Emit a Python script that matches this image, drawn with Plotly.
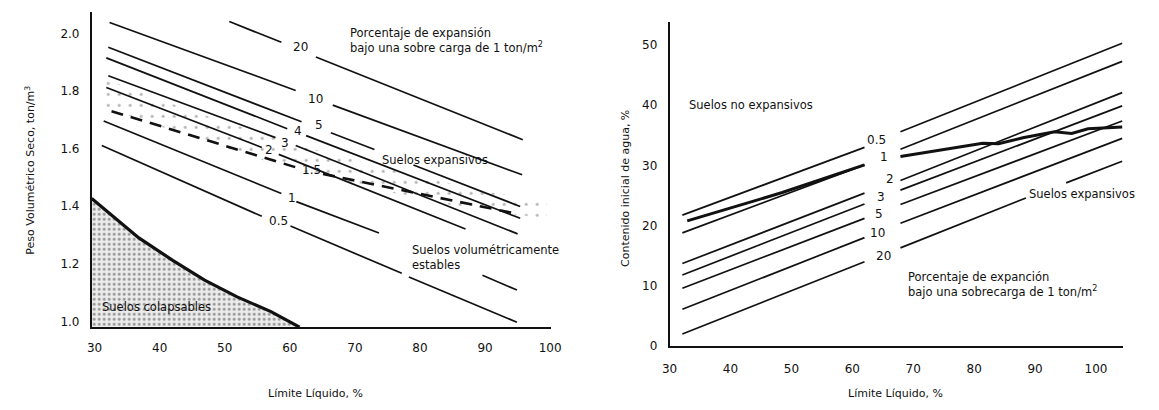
import plotly.graph_objects as go

# ---------------- LEFT CHART DATA (Límite Líquido %, Peso volumétrico seco ton/m3) ----------------
l_xticks = [30, 40, 50, 60, 70, 80, 90, 100]
l_xticklabels = ["30", "40", "50", "60", "70", "80", "90", "100"]
l_yticks = [1.0, 1.2, 1.4, 1.6, 1.8, 2.0]
l_yticklabels = ["1.0", "1.2", "1.4", "1.6", "1.8", "2.0"]

# expansion lines (None separates segments interrupted by labels / text)
l20_x = [50.7, 58.7, None, 64.0, 95.8]
l20_y = [2.041, 1.969, None, 1.918, 1.631]
l10_x = [32.3, 60.9, None, 66.6, 95.7]
l10_y = [2.038, 1.802, None, 1.751, 1.509]
l5_x = [32.1, 61.8, None, 66.3, 73.0, None, 79.0, 95.4]
l5_y = [1.952, 1.693, None, 1.655, 1.597, None, 1.543, 1.399]
l4_x = [31.8, 59.6, None, 62.5, 95.4]
l4_y = [1.915, 1.669, None, 1.645, 1.358]
l3_x = [32.1, 57.8, None, 60.9, 95.0]
l3_y = [1.853, 1.638, None, 1.611, 1.304]
l2_x = [31.8, 55.7, None, 58.3, 87.0]
l2_y = [1.812, 1.604, None, 1.580, 1.321]
l15_x = [32.6, 61.8, None, 65.1, 94.6]
l15_y = [1.730, 1.529, None, 1.512, 1.375]
l1_x = [31.4, 58.7, None, 61.0, 73.7, None, 89.6, 94.9]
l1_y = [1.696, 1.444, None, 1.416, 1.307, None, 1.160, 1.109]
l05_x = [31.1, 55.7, None, 60.1, 77.2, None, 78.3, 94.9]
l05_y = [1.611, 1.365, None, 1.331, 1.167, None, 1.154, 0.997]

# collapsible soils boundary
col_x = [29.55, 33.3, 36.8, 42.0, 46.9, 51.9, 57.1, 61.5]
col_y = [1.427, 1.355, 1.290, 1.212, 1.143, 1.085, 1.034, 0.98]

# stippled band (expansive soils zone)
band_x = [31.8, 45.0, 60.0, 75.0, 90.0, 99.5, 99.5, 90.0, 75.0, 60.0, 45.0, 31.8]
band_y = [1.84, 1.73, 1.62, 1.53, 1.45, 1.42, 1.36, 1.38, 1.45, 1.53, 1.64, 1.74]

l_labels = [("20", 61.6, 1.952), ("10", 63.9, 1.771), ("5", 64.5, 1.683),
            ("4", 61.3, 1.660), ("3", 59.3, 1.621), ("2", 56.8, 1.594),
            ("1.5", 63.3, 1.526), ("1", 60.3, 1.430), ("0.5", 58.3, 1.348)]

# ---------------- RIGHT CHART DATA (Límite Líquido %, contenido inicial de agua %) ----------------
r_xticks = [30, 40, 50, 60, 70, 80, 90, 100]
r_yticks = [0, 10, 20, 30, 40, 50]

r05_x = [32.1, 62.0, None, 67.9, 104.3]
r05_y = [21.75, 33.0, None, 35.6, 50.3]
r1_x = [32.1, 62.0, None, 67.9, 104.3]
r1_y = [18.8, 30.1, None, 32.7, 47.3]
r2_x = [32.1, 62.0, None, 67.9, 104.3]
r2_y = [13.7, 25.4, None, 27.5, 42.1]
r3_x = [32.1, 62.0, None, 67.9, 104.3]
r3_y = [11.8, 23.6, None, 25.9, 39.9]
r5_x = [32.1, 62.0, None, 67.9, 104.3]
r5_y = [9.6, 21.2, None, 23.5, 37.4]
r10_x = [32.1, 62.0, None, 67.9, 104.3]
r10_y = [6.1, 18.0, None, 20.4, 34.5]
r20_x = [32.1, 62.0, None, 67.9, 88.5, None, 95.1, 104.3]
r20_y = [2.0, 14.0, None, 16.3, 24.6, None, 27.1, 30.7]
# heavy (observed) line
rh_x = [32.9, 48.5, 62.0, None, 67.9, 75.0, 81.4, 84.0, 88.0, 93.2, 96.0, 98.7, 104.3]
rh_y = [20.8, 25.5, 30.1, None, 31.5, 32.6, 33.7, 33.6, 34.6, 35.6, 35.3, 36.1, 36.4]

r_labels = [("0.5", 63.9, 34.2), ("1", 65.2, 31.4), ("2", 66.2, 27.8), ("3", 64.7, 24.8),
            ("5", 64.4, 21.9), ("10", 64.2, 18.8), ("20", 65.2, 14.9)]

FONT = "DejaVu Sans"
INK = "#111111"

fig = go.Figure()

# collapsible region
fig.add_trace(go.Scatter(
    x=col_x + [col_x[0]], y=col_y + [col_y[-1]], mode="lines", fill="toself",
    fillcolor="rgba(150,150,150,0.35)",
    fillpattern=dict(shape=".", fgcolor="#333333", bgcolor="rgba(200,200,200,0.35)", size=5, solidity=0.25),
    line=dict(width=0), hoverinfo="skip", xaxis="x", yaxis="y"))
fig.add_trace(go.Scatter(x=col_x, y=col_y, mode="lines", line=dict(color=INK, width=3.2),
                         hoverinfo="skip", xaxis="x", yaxis="y"))

# stippled band
fig.add_trace(go.Scatter(
    x=band_x, y=band_y, mode="lines", fill="toself", fillcolor="rgba(0,0,0,0)",
    fillpattern=dict(shape=".", fgcolor="#666666", bgcolor="rgba(0,0,0,0)", size=11, solidity=0.06),
    line=dict(width=0), hoverinfo="skip", xaxis="x", yaxis="y"))

for xs, ys in [(l20_x, l20_y), (l10_x, l10_y), (l5_x, l5_y), (l4_x, l4_y), (l3_x, l3_y),
               (l2_x, l2_y), (l1_x, l1_y), (l05_x, l05_y)]:
    fig.add_trace(go.Scatter(x=xs, y=ys, mode="lines", line=dict(color=INK, width=1.7),
                             connectgaps=False, hoverinfo="skip", xaxis="x", yaxis="y"))
fig.add_trace(go.Scatter(x=l15_x, y=l15_y, mode="lines",
                         line=dict(color=INK, width=2.6, dash="12px,8px"),
                         connectgaps=False, hoverinfo="skip", xaxis="x", yaxis="y"))

for xs, ys in [(r05_x, r05_y), (r1_x, r1_y), (r2_x, r2_y), (r3_x, r3_y), (r5_x, r5_y),
               (r10_x, r10_y), (r20_x, r20_y)]:
    fig.add_trace(go.Scatter(x=xs, y=ys, mode="lines", line=dict(color=INK, width=1.7),
                             connectgaps=False, hoverinfo="skip", xaxis="x2", yaxis="y2"))
fig.add_trace(go.Scatter(x=rh_x, y=rh_y, mode="lines", line=dict(color=INK, width=3.0),
                         connectgaps=False, hoverinfo="skip", xaxis="x2", yaxis="y2"))

ann = []
for t, x, y in l_labels:
    ann.append(dict(text=t, x=x, y=y, xref="x", yref="y", showarrow=False,
                    font=dict(size=12, color=INK)))
for t, x, y in r_labels:
    ann.append(dict(text=t, x=x, y=y, xref="x2", yref="y2", showarrow=False,
                    font=dict(size=12, color=INK)))

def txt(text, x, y, xref, yref, size=11.5, xanchor="left", yanchor="middle", angle=0, align="left"):
    ann.append(dict(text=text, x=x, y=y, xref=xref, yref=yref, showarrow=False,
                    xanchor=xanchor, yanchor=yanchor, textangle=angle, align=align,
                    font=dict(size=size, color=INK)))

txt("Porcentaje de expansión<br>bajo una sobre carga de 1 ton/m<sup>2</sup>", 68.9, 1.974, "x", "y")
txt("Suelos expansivos", 73.9, 1.560, "x", "y")
txt("Suelos volumétricamente<br>estables", 78.4, 1.222, "x", "y")
txt("Suelos colapsables", 30.8, 1.051, "x", "y")

txt("Suelos no expansivos", 32.9, 40.0, "x2", "y2")
txt("Suelos expansivos", 88.6, 25.2, "x2", "y2")
txt("Porcentaje de expanción<br>bajo una sobrecarga de 1 ton/m<sup>2</sup>", 68.8, 10.3, "x2", "y2")

txt("Límite Líquido, %", 312 / 1159, 1 - 400 / 410, "paper", "paper", size=11, xanchor="center")
txt("Límite Líquido, %", 901 / 1159, 1 - 400 / 410, "paper", "paper", size=11, xanchor="center")
txt("Peso Volumétrico Seco, ton/m<sup>3</sup>", 22 / 1159, 1 - 173 / 410, "paper", "paper",
    size=11, xanchor="center", angle=-90)
txt("Contenido inicial de agua, %", 627 / 1159, 1 - 192 / 410, "paper", "paper",
    size=11, xanchor="center", angle=-90)

axis_common = dict(showline=True, linecolor=INK, linewidth=1.6, showgrid=False, zeroline=False,
                   ticks="outside", tickcolor="rgba(0,0,0,0)", tickfont=dict(size=12, color=INK))

fig.update_layout(
    width=1159, height=410, margin=dict(l=0, r=0, t=0, b=0),
    paper_bgcolor="white", plot_bgcolor="white", showlegend=False,
    font=dict(family=FONT, color=INK),
    xaxis=dict(domain=[85 / 1159, 552 / 1159], range=[29.55, 100.2], tickvals=l_xticks,
               ticktext=l_xticklabels, ticklen=8, anchor="y", **axis_common),
    yaxis=dict(domain=[1 - 333 / 410, 1 - 12 / 410], range=[0.9795, 2.075], tickvals=l_yticks,
               ticktext=l_yticklabels, ticklen=8, anchor="x", **axis_common),
    xaxis2=dict(domain=[672 / 1159, 1133 / 1159], range=[30, 104.5], tickvals=r_xticks,
                ticklen=11, anchor="y2", **axis_common),
    yaxis2=dict(domain=[1 - 352 / 410, 1 - 22 / 410], range=[0, 53.9], tickvals=r_yticks,
                ticklen=8, anchor="x2", **axis_common),
    annotations=ann,
)

fig.write_html("out.html", config={"displayModeBar": False},
               post_script="document.body.style.margin='0';document.body.style.padding='0';"
                           "document.body.style.overflow='hidden';")
